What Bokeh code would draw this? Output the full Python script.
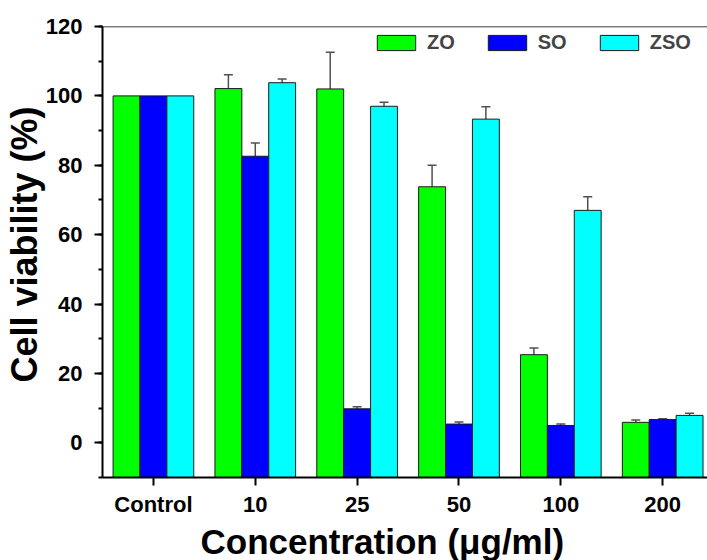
from bokeh.plotting import figure
from bokeh.models import (Range1d, LinearAxis, FixedTicker, SingleIntervalTicker,
                          Whisker, TeeHead, ColumnDataSource, Legend, LegendItem, Title, Span)
from bokeh.embed import file_html
from bokeh.resources import INLINE

categories = ["Control", "10", "25", "50", "100", "200"]
series = ["ZO", "SO", "ZSO"]
zo = [100, 102.1, 102.0, 73.8, 25.4, 5.9]
zo_err = [0, 4.0, 10.6, 6.2, 1.9, 0.7]
so = [100, 82.6, 9.8, 5.4, 5.0, 6.7]
so_err = [0, 3.8, 0.6, 0.6, 0.4, 0.2]
zso = [100, 103.8, 97.0, 93.3, 67.0, 7.9]
zso_err = [0, 1.1, 1.2, 3.6, 3.9, 0.6]
colors = ["#00ff00", "#0000ff", "#00ffff"]

FONT = "Liberation Sans"

p = figure(width=707, height=560, output_backend="svg", toolbar_location=None,
           x_range=Range1d(-0.5, 5.44), y_range=Range1d(-10, 120),
           x_axis_type=None, y_axis_type=None,
           min_border_left=102, min_border_right=0, min_border_top=26, min_border_bottom=83)
p.outline_line_color = None
p.grid.visible = False
p.background_fill_color = "white"
p.border_fill_color = "white"

xs = list(range(len(categories)))
bw = 0.264
offsets = [-bw, 0, bw]
renderers = []
for vals, errs, col, off in zip([zo, so, zso], [zo_err, so_err, zso_err], colors, offsets):
    src = ColumnDataSource(dict(x=[x + off for x in xs], top=vals))
    r = p.vbar(x="x", top="top", bottom=-10, width=bw, source=src,
               fill_color=col, line_color="#1a1a1a", line_width=1)
    renderers.append(r)
    esrc = ColumnDataSource(dict(x=[x + off for x, e in zip(xs, errs) if e > 0],
                                 lower=[v for v, e in zip(vals, errs) if e > 0],
                                 upper=[v + e for v, e in zip(vals, errs) if e > 0]))
    w = Whisker(base="x", lower="lower", upper="upper", source=esrc, dimension="height",
                line_color="#505050", line_width=1.5,
                upper_head=TeeHead(size=9, line_color="#505050", line_width=1.5),
                lower_head=None)
    p.add_layout(w)

# axes
yax = LinearAxis(ticker=SingleIntervalTicker(interval=20, num_minor_ticks=2))
yax.axis_line_width = 2
yax.major_tick_line_width = 2
yax.minor_tick_line_width = 2
yax.major_tick_out = 8
yax.major_tick_in = 0
yax.minor_tick_out = 4
yax.minor_tick_in = 0
yax.major_label_standoff = 12
yax.major_label_text_font = FONT
yax.major_label_text_font_style = "bold"
yax.major_label_text_font_size = "22px"
yax.major_label_text_color = "black"
p.add_layout(yax, "left")

xax = LinearAxis(ticker=FixedTicker(ticks=xs),
                 major_label_overrides={i: c for i, c in enumerate(categories)})
xax.axis_line_width = 2
xax.major_tick_line_width = 2
xax.major_tick_out = 8
xax.major_tick_in = 0
xax.minor_tick_out = 0
xax.major_label_standoff = 6
xax.major_label_text_font = FONT
xax.major_label_text_font_style = "bold"
xax.major_label_text_font_size = "22px"
xax.major_label_text_color = "black"
p.add_layout(xax, "below")

p.add_layout(Span(location=120, dimension="width", line_color="black", line_width=1.5))

xt = Title(text="Concentration (μg/ml)", align="left", offset=98, text_color="black",
           text_font=FONT, text_font_style="bold", text_font_size="35px", standoff=0)
p.add_layout(xt, "below")
yt = Title(text="Cell viability (%)", align="left", offset=95, text_color="black",
           text_font=FONT, text_font_style="bold", text_font_size="36px", standoff=-5)
p.add_layout(yt, "left")

legend = Legend(items=[LegendItem(label=s, renderers=[r]) for s, r in zip(series, renderers)],
                orientation="horizontal", location=(270, 423),
                glyph_width=48, glyph_height=19, label_height=19,
                label_text_font=FONT, label_text_font_style="bold",
                label_text_font_size="20px", label_standoff=7, spacing=28,
                padding=0, margin=0, border_line_color=None, background_fill_alpha=0)
p.add_layout(legend, "center")

open("out.html", "w").write(file_html(p, INLINE))
